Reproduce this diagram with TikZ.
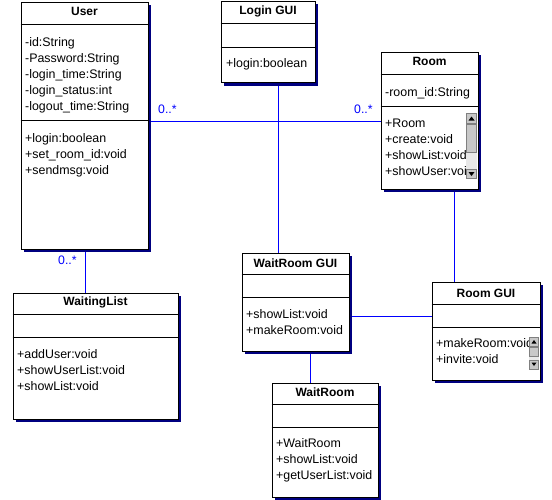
\documentclass[tikz,border=0pt]{standalone}
\usepackage{fontspec}
\setmainfont{Liberation Sans}
\usetikzlibrary{shadows,backgrounds}
\definecolor{navyshadow}{RGB}{0,0,128}
\definecolor{umlblue}{RGB}{0,0,255}
\definecolor{sbtrack}{RGB}{232,232,232}
\definecolor{sbbtn}{RGB}{200,200,200}
\definecolor{sbedge}{RGB}{128,128,128}
\begin{document}
\begin{tikzpicture}[x=1pt,y=-1pt,
  cls/.style={draw=black, fill=white, line width=1pt, inner sep=0pt, anchor=north west,
    drop shadow={shadow xshift=3pt, shadow yshift=-3pt, fill=navyshadow, opacity=1}},
  ttl/.style={font=\fontsize{12}{14}\selectfont\bfseries, anchor=base, inner sep=0pt},
  txt/.style={font=\fontsize{12.4}{14}\selectfont, anchor=base west, inner sep=0pt},
  mult/.style={font=\fontsize{12.3}{14}\selectfont, text=umlblue, anchor=base west, inner sep=0pt},
  sep/.style={draw=black, line width=1pt},
  assoc/.style={draw=umlblue, line width=1pt},
  sbbox/.style={draw=sbedge, fill=sbbtn, line width=0.8pt},
  sbtri/.style={fill=black},
  ]
\useasboundingbox (0,0) rectangle (552,499);

% ---------- User ----------
\node[cls, minimum width=127pt, minimum height=247pt] (user) at (20.5,1.5) {};
\draw[sep] (user.west |- 0,24.5) -- (user.east |- 0,24.5);
\draw[sep] (user.west |- 0,120.5) -- (user.east |- 0,120.5);
\node[ttl] (user-t) at (user.north |- 0,15) {User};
\foreach \t [count=\i from 0] in {-id:String,-Password:String,-login\_time:String,-login\_status:int,-logout\_time:String}
  \node[txt] (user-a\i) at (25,{46+16*\i}) {\t};
\foreach \t [count=\i from 0] in {+login:boolean,+set\_room\_id:void,+sendmsg:void}
  \node[txt] (user-m\i) at (25,{142+16*\i}) {\t};

% ---------- Login GUI ----------
\node[cls, minimum width=94pt, minimum height=81.5pt] (login) at (220.5,0.5) {};
\draw[sep] (login.west |- 0,23.5) -- (login.east |- 0,23.5);
\draw[sep] (login.west |- 0,47.5) -- (login.east |- 0,47.5);
\node[ttl] (login-t) at (login.north |- 0,14) {Login GUI};
\node[txt] (login-m0) at (226,67) {+login:boolean};

% ---------- Room ----------
\node[cls, minimum width=97pt, minimum height=137pt] (room) at (380.5,51.5) {};
\draw[sep] (room.west |- 0,74.5) -- (room.east |- 0,74.5);
\draw[sep] (room.west |- 0,106.5) -- (room.east |- 0,106.5);
\node[ttl] (room-t) at (room.north |- 0,65) {Room};
\node[txt] (room-a0) at (385,96) {-room\_id:String};
\foreach \t [count=\i from 0] in {+Room,+create:void,+showList:void,+showUser:void}
  \node[txt] (room-m\i) at (385,{127+16*\i}) {\t};
% scrollbar
\fill[sbtrack] (466,113) rectangle (477,179);
\draw[sbbox] (466.5,113.5) rectangle (476.5,123);
\fill[sbtri] (468.5,120.5) -- (474.5,120.5) -- (471.5,116.5) -- cycle;
\draw[sbbox] (466.5,124) rectangle (476.5,152);
\draw[sbbox] (466.5,169) rectangle (476.5,178.5);
\fill[sbtri] (468.5,172) -- (474.5,172) -- (471.5,176) -- cycle;

% ---------- WaitingList ----------
\node[cls, minimum width=165pt, minimum height=126pt] (wlist) at (12.5,292.5) {};
\draw[sep] (wlist.west |- 0,314.5) -- (wlist.east |- 0,314.5);
\draw[sep] (wlist.west |- 0,337.5) -- (wlist.east |- 0,337.5);
\node[ttl] (wlist-t) at (wlist.north |- 0,305) {WaitingList};
\foreach \t [count=\i from 0] in {+addUser:void,+showUserList:void,+showList:void}
  \node[txt] (wlist-m\i) at (17,{358+16*\i}) {\t};

% ---------- WaitRoom GUI ----------
\node[cls, minimum width=107pt, minimum height=98pt] (wgui) at (241.5,252.5) {};
\draw[sep] (wgui.west |- 0,274.5) -- (wgui.east |- 0,274.5);
\draw[sep] (wgui.west |- 0,297.5) -- (wgui.east |- 0,297.5);
\node[ttl] (wgui-t) at (wgui.north |- 0,267) {WaitRoom GUI};
\foreach \t [count=\i from 0] in {+showList:void,+makeRoom:void}
  \node[txt] (wgui-m\i) at (246,{318+16*\i}) {\t};

% ---------- Room GUI ----------
\node[cls, minimum width=108pt, minimum height=98pt] (rgui) at (431.5,281.5) {};
\draw[sep] (rgui.west |- 0,304.5) -- (rgui.east |- 0,304.5);
\draw[sep] (rgui.west |- 0,327.5) -- (rgui.east |- 0,327.5);
\node[ttl] (rgui-t) at (rgui.north |- 0,297) {Room GUI};
\foreach \t [count=\i from 0] in {+makeRoom:void,+invite:void}
  \node[txt] (rgui-m\i) at (436,{347+16*\i}) {\t};
% scrollbar
\fill[sbtrack] (529,337) rectangle (539,369);
\draw[sbbox] (529.5,337.5) rectangle (538.5,346);
\fill[sbtri] (531.5,343.5) -- (536.5,343.5) -- (534,340) -- cycle;
\draw[sbbox] (529.5,347) rectangle (538.5,356);
\draw[sbbox] (529.5,360) rectangle (538.5,369);
\fill[sbtri] (531.5,362.5) -- (536.5,362.5) -- (534,366) -- cycle;

% ---------- WaitRoom ----------
\node[cls, minimum width=106pt, minimum height=114pt] (wroom) at (271.5,382.5) {};
\draw[sep] (wroom.west |- 0,404.5) -- (wroom.east |- 0,404.5);
\draw[sep] (wroom.west |- 0,427.5) -- (wroom.east |- 0,427.5);
\node[ttl] (wroom-t) at (wroom.north |- 0,396) {WaitRoom};
\foreach \t [count=\i from 0] in {+WaitRoom,+showList:void,+getUserList:void}
  \node[txt] (wroom-m\i) at (276,{447+16*\i}) {\t};

% ---------- connectors ----------
\coordinate (hy) at (0,121.5);
\coordinate (lx) at (278.5,0);
\coordinate (rx) at (454.5,0);
\coordinate (gy) at (0,316.5);
\coordinate (wx) at (310.5,0);
\coordinate (ux) at (85.5,0);
\begin{scope}[on background layer]
\draw[assoc] (user.east |- hy) -- (room.west |- hy);
\draw[assoc] (login.south -| lx) -- (wgui.north -| lx);
\draw[assoc] (room.south -| rx) -- (rgui.north -| rx);
\draw[assoc] (wgui.east |- gy) -- (rgui.west |- gy);
\draw[assoc] (wgui.south -| wx) -- (wroom.north -| wx);
\draw[assoc] (user.south -| ux) -- (wlist.north -| ux);
\end{scope}

% multiplicities
\node[mult] (mult-ur) at (158,113) {0..*};
\node[mult] (mult-rl) at (354,113) {0..*};
\node[mult] (mult-ub) at (58,264) {0..*};
\end{tikzpicture}
\end{document}
